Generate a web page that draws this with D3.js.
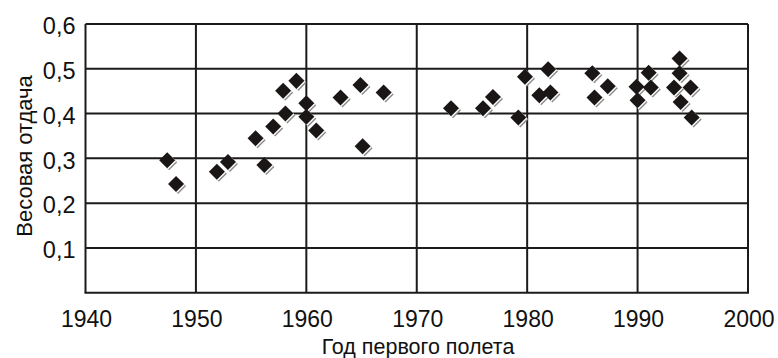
<!DOCTYPE html>
<html lang="ru">
<head>
  <meta charset="UTF-8" />
  <title>Весовая отдача</title>
  <script src="https://d3js.org/d3.v7.min.js"></script>
  <style>
    body { margin: 0; background: #fff; }
    text { font-family: "Liberation Sans", Arial, sans-serif; fill: #111; }
    .grid line { stroke: #1d1a1a; stroke-width: 2px; }
  </style>
</head>
<body>
<script>
  // year of first flight
  const years = [
    1947.4, 1948.2, 1951.9, 1952.9, 1955.4, 1956.2, 1957.0, 1958.1, 1957.9,
    1959.1, 1960.0, 1960.0, 1960.9, 1963.1, 1964.9, 1965.1, 1967.0,
    1973.1, 1976.0, 1976.9, 1979.2, 1979.8, 1981.9, 1981.1, 1982.1,
    1985.9, 1987.3, 1986.1, 1989.9, 1990.0, 1991.0, 1991.2,
    1993.8, 1993.8, 1993.3, 1994.8, 1993.9, 1994.9
  ];
  // weight efficiency
  const values = [
    0.296, 0.243, 0.270, 0.292, 0.345, 0.285, 0.371, 0.400, 0.451,
    0.473, 0.423, 0.393, 0.362, 0.436, 0.464, 0.327, 0.447,
    0.412, 0.412, 0.437, 0.391, 0.482, 0.499, 0.441, 0.447,
    0.490, 0.461, 0.436, 0.460, 0.430, 0.491, 0.458,
    0.523, 0.490, 0.458, 0.458, 0.426, 0.391
  ];
  const xTicks = [1940, 1950, 1960, 1970, 1980, 1990, 2000];
  const yTicks = [0.1, 0.2, 0.3, 0.4, 0.5, 0.6];

  const W = 778, H = 358;
  const pLeft = 85.5, pRight = 748, pTop = 24, pBottom = 292.7;

  const svg = d3.select("body").append("svg")
    .attr("width", W).attr("height", H);

  const x = d3.scaleLinear().domain([1940, 2000]).range([pLeft, pRight]);
  const y = d3.scaleLinear().domain([0, 0.6]).range([pBottom, pTop]);
  const fmt = d => d.toFixed(1).replace(".", ",");

  // grid lines
  const grid = svg.append("g").attr("class", "grid");
  grid.selectAll(".h").data(yTicks).enter().append("line")
    .attr("x1", pLeft).attr("x2", pRight)
    .attr("y1", d => y(d)).attr("y2", d => y(d));
  grid.selectAll(".v").data(xTicks).enter().append("line")
    .attr("y1", pTop).attr("y2", pBottom)
    .attr("x1", d => x(d)).attr("x2", d => x(d));
  grid.append("line")
    .attr("x1", pLeft - 1).attr("x2", pRight + 1)
    .attr("y1", pBottom).attr("y2", pBottom);

  // tick labels
  svg.append("g").selectAll("text").data(yTicks).enter().append("text")
    .attr("x", pLeft - 10)
    .attr("y", d => y(d) + 2)
    .attr("dy", "0.35em")
    .attr("text-anchor", "end")
    .style("font-size", "23.5px")
    .text(fmt);

  svg.append("g").selectAll("text").data(xTicks).enter().append("text")
    .attr("x", d => x(d) + 1)
    .attr("y", 327)
    .attr("text-anchor", "middle")
    .style("font-size", "23px")
    .text(d => d);

  // axis titles
  svg.append("text")
    .attr("x", 418).attr("y", 354)
    .attr("text-anchor", "middle")
    .style("font-size", "21.5px")
    .text("Год первого полета");

  svg.append("text")
    .attr("transform", "translate(32,156) rotate(-90)")
    .attr("text-anchor", "middle")
    .style("font-size", "22px")
    .text("Весовая отдача");

  // diamond markers with a light shadow at bottom-right
  const pts = years.map((yr, i) => ({ yr, v: values[i] }));
  const sq = d3.symbol().type(d3.symbolSquare).size(128);
  const layers = [
    { dx: 2, dy: 2, fill: "#8a8a8a" },
    { dx: 1, dy: 1, fill: "#ffffff" },
    { dx: 0, dy: 0, fill: "#1a1616" }
  ];
  layers.forEach(l => {
    svg.append("g").selectAll("path").data(pts).enter().append("path")
      .attr("d", sq)
      .attr("fill", l.fill)
      .attr("transform", d => `translate(${x(d.yr) + l.dx},${y(d.v) + l.dy}) rotate(45)`);
  });
</script>
</body>
</html>
